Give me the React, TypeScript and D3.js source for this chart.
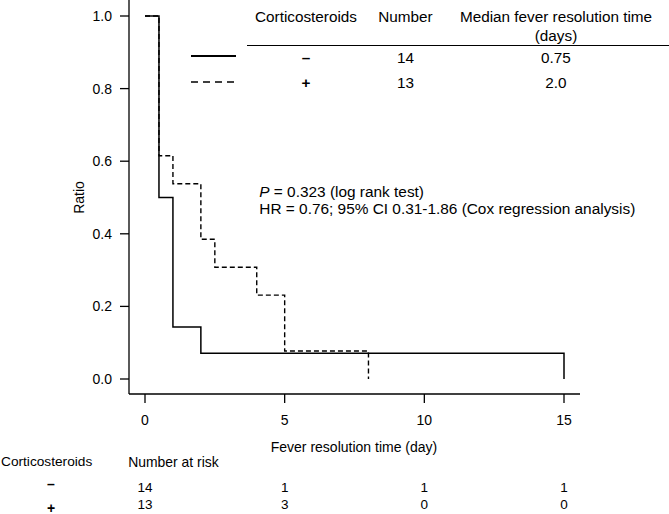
import React from 'react';
import { scaleLinear, line, curveStepAfter } from 'd3';

// Kaplan-Meier steps
const timeNoSteroid = [0, 0.5, 1, 2, 15];
const survNoSteroid = [1, 0.5, 0.143, 0.071, 0];
const timeSteroid = [0, 0.5, 1, 2, 2.5, 4, 5, 8];
const survSteroid = [1, 0.615, 0.538, 0.385, 0.308, 0.231, 0.077, 0];

const xTicks = [0, 5, 10, 15];
const yTicks = [0, 0.2, 0.4, 0.6, 0.8, 1.0];

const groupLabels = ['–', '+'];
const groupNumbers = ['14', '13'];
const groupMedians = ['0.75', '2.0'];
const tableHeaders = ['Corticosteroids', 'Number', 'Median fever resolution time'];

const riskTimes = [0, 5, 10, 15];
const riskNoSteroid = [14, 1, 1, 1];
const riskSteroid = [13, 3, 0, 0];

const FONT = '"Liberation Sans", Arial, Helvetica, sans-serif';

const App = () => {
  const width = 669;
  const height = 514;

  const x = scaleLinear().domain([0, 15]).range([145, 564]);
  const y = scaleLinear().domain([0, 1]).range([379, 16]);

  const axisX = 129;
  const axisY = 394;

  const stepLine = line<[number, number]>()
    .x((d) => x(d[0]))
    .y((d) => y(d[1]))
    .curve(curveStepAfter);

  const solidPts = timeNoSteroid.map((t, i) => [t, survNoSteroid[i]] as [number, number]);
  const dashedPts = timeSteroid.map((t, i) => [t, survSteroid[i]] as [number, number]);

  const colX = [306, 405.5, 556];
  const rowY = [63.3, 88.3];
  const riskRows = [riskNoSteroid, riskSteroid];
  const riskRowY = [491.7, 509];
  const riskSignY = [489, 512.5];

  return (
    <svg
      width={width}
      height={height}
      style={{ position: 'absolute', left: 0, top: 0, background: '#fff' }}
      fontFamily={FONT}
      fontSize={14}
    >
      {/* axes */}
      <line x1={axisX} x2={axisX} y1={0} y2={axisY} stroke="#000" strokeWidth={1.3} />
      <line x1={axisX} x2={580} y1={axisY} y2={axisY} stroke="#000" strokeWidth={1.3} />
      {yTicks.map((t) => (
        <g key={'y' + t}>
          <line x1={axisX - 9} x2={axisX} y1={y(t)} y2={y(t)} stroke="#000" strokeWidth={1.3} />
          <text x={112} y={y(t) + 5} textAnchor="end">
            {t.toFixed(1)}
          </text>
        </g>
      ))}
      {xTicks.map((t) => (
        <g key={'x' + t}>
          <line x1={x(t)} x2={x(t)} y1={axisY} y2={axisY + 9} stroke="#000" strokeWidth={1.3} />
          <text x={x(t)} y={425} textAnchor="middle">
            {t}
          </text>
        </g>
      ))}
      <text x={79} y={197.5} textAnchor="middle" transform="rotate(-90 79 197.5)" dominantBaseline="central">
        Ratio
      </text>
      <text x={354} y={452} textAnchor="middle">
        Fever resolution time (day)
      </text>

      {/* curves */}
      <path d={stepLine(dashedPts) ?? ''} fill="none" stroke="#000" strokeWidth={1.4} strokeDasharray="5,3" />
      <path d={stepLine(solidPts) ?? ''} fill="none" stroke="#000" strokeWidth={1.5} />

      {/* legend table */}
      {tableHeaders.map((h, i) => (
        <text key={h} x={colX[i]} y={21.7} textAnchor="middle" fontSize={15.3}>
          {h}
        </text>
      ))}
      <text x={colX[2]} y={40.5} textAnchor="middle" fontSize={15.3}>
        (days)
      </text>
      <line x1={247} x2={669} y1={45.5} y2={45.5} stroke="#000" strokeWidth={1.2} />
      <line x1={191} x2={236} y1={56} y2={56} stroke="#000" strokeWidth={2} />
      <line x1={191} x2={236} y1={82} y2={82} stroke="#000" strokeWidth={1.5} strokeDasharray="7,5" />
      {groupLabels.map((g, i) => (
        <g key={'row' + i} fontSize={15.3}>
          <text x={colX[0]} y={rowY[i]} textAnchor="middle" fontWeight="bold">
            {g}
          </text>
          <text x={colX[1]} y={rowY[i]} textAnchor="middle">
            {groupNumbers[i]}
          </text>
          <text x={colX[2]} y={rowY[i]} textAnchor="middle">
            {groupMedians[i]}
          </text>
        </g>
      ))}

      {/* statistics */}
      <text x={259.3} y={197.3} fontSize={15.4}>
        <tspan fontStyle="italic">P</tspan> = 0.323 (log rank test)
      </text>
      <text x={259.3} y={214} fontSize={15.4}>
        HR = 0.76; 95% CI 0.31-1.86 (Cox regression analysis)
      </text>

      {/* number at risk */}
      <text x={1} y={466} fontSize={13.7}>
        Corticosteroids
      </text>
      <text x={128.3} y={467} fontSize={13.9}>
        Number at risk
      </text>
      {groupLabels.map((g, i) => (
        <text key={'rl' + i} x={51} y={riskSignY[i]} textAnchor="middle" fontWeight="bold" fontSize={14}>
          {g}
        </text>
      ))}
      {riskRows.map((row, i) =>
        row.map((v, j) => (
          <text key={'r' + i + j} x={x(riskTimes[j])} y={riskRowY[i]} textAnchor="middle" fontSize={13.5}>
            {v}
          </text>
        ))
      )}
    </svg>
  );
};

export default App;
